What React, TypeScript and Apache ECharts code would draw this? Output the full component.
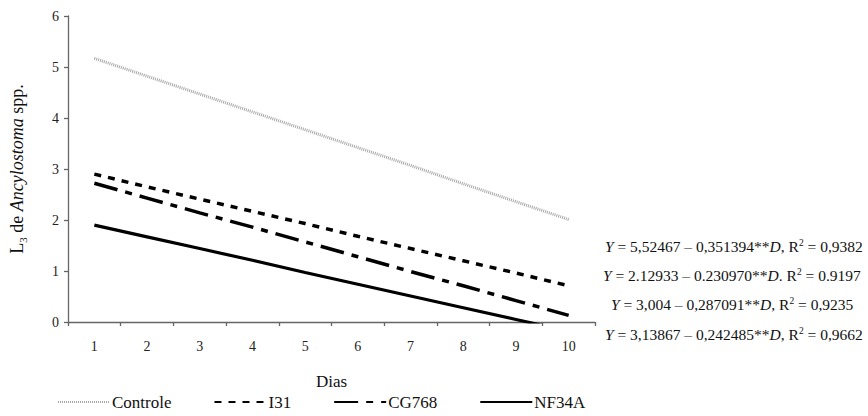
import React, { useEffect, useRef } from "react";
import * as echarts from "echarts";

const days = ["1", "2", "3", "4", "5", "6", "7", "8", "9", "10"];
const yTicks = [0, 1, 2, 3, 4, 5, 6];
const controle = [5.17, 4.82, 4.47, 4.12, 3.77, 3.42, 3.07, 2.71, 2.36, 2.01];
const i31 = [2.9, 2.65, 2.41, 2.17, 1.93, 1.68, 1.44, 1.2, 0.96, 0.71];
const cg768 = [2.72, 2.43, 2.14, 1.86, 1.57, 1.28, 0.99, 0.71, 0.42, 0.13];
const nf34a = [1.9, 1.67, 1.44, 1.21, 0.97, 0.74, 0.51, 0.28, 0.05, -0.18];
const seriesNames = ["Controle", "I31", "CG768", "NF34A"];
const equations = [
  "{i|Y} = 5,52467 – 0,351394**{i|D}, R{s|2} = 0,9382",
  "{i|Y} = 2.12933 – 0.230970**{i|D}. R{s|2} = 0.9197",
  "{i|Y} = 3,004 – 0,287091**{i|D}, R{s|2} = 0,9235",
  "{i|Y} = 3,13867 – 0,242485**{i|D}, R{s|2} = 0,9662",
];

const FONT = "Liberation Serif, serif";

export default function App() {
  const ref = useRef<HTMLDivElement>(null);
  useEffect(() => {
    if (!ref.current) return;
    const chart = echarts.init(ref.current, undefined, { renderer: "svg" });
    const eqLeft = [605, 603, 611, 605];
    const eqY = [247, 276, 305, 335];
    const styles = [
      { color: "#a8a8a8", width: 3, type: [1, 1] as any },
      { color: "#000", width: 3.5, type: [7, 7] as any },
      { color: "#000", width: 3.5, type: [24, 8, 7, 8] as any },
      { color: "#000", width: 3.2, type: "solid" as any },
    ];
    const datas = [controle, i31, cg768, nf34a];
    chart.setOption({
      animation: false,
      textStyle: { fontFamily: FONT },
      grid: { left: 61, right: 273, top: 16, bottom: 94, containLabel: false },
      xAxis: {
        type: "category",
        data: days,
        boundaryGap: true,
        name: "Dias",
        nameLocation: "middle",
        nameGap: 51,
        nameTextStyle: { fontFamily: FONT, fontSize: 17, color: "#111" },
        axisLine: { lineStyle: { color: "#666", width: 1.3 } },
        axisTick: { show: true, length: 4, alignWithLabel: false, lineStyle: { color: "#666", width: 1.3 } },
        axisLabel: { fontFamily: FONT, fontSize: 14, color: "#222", margin: 17 },
        splitLine: { show: false },
      },
      yAxis: {
        type: "value",
        min: yTicks[0],
        max: yTicks[yTicks.length - 1],
        interval: 1,
        name: "{n|L}{sub|3}{n| de }{it|Ancylostoma}{n| spp.}",
        nameLocation: "middle",
        nameGap: 40,
        nameRotate: 90,
        nameTextStyle: {
          fontFamily: FONT,
          fontSize: 18,
          color: "#111",
          rich: {
            n: { fontFamily: FONT, fontSize: 18, color: "#111" },
            it: { fontFamily: FONT, fontSize: 18, fontStyle: "italic", color: "#111" },
            sub: { fontFamily: FONT, fontSize: 11, color: "#111", verticalAlign: "bottom", lineHeight: 22 },
          },
        },
        axisLine: { show: true, lineStyle: { color: "#666", width: 1.3 } },
        axisTick: { show: true, length: 4, lineStyle: { color: "#666", width: 1.3 } },
        axisLabel: { fontFamily: FONT, fontSize: 14, color: "#222", margin: 9 },
        splitLine: { show: false },
      },
      legend: {
        left: 57,
        top: 392,
        itemWidth: 52,
        itemHeight: 12,
        itemGap: 42,
        padding: 0,
        data: seriesNames,
        itemStyle: { color: "rgba(0,0,0,0)", borderWidth: 0, opacity: 0 },
        textStyle: { fontFamily: FONT, fontSize: 17, lineHeight: 20, color: "#111", padding: [0, 0, 0, -3] },
      },
      series: seriesNames.map((n, k) => ({
        name: n,
        type: "line",
        data: datas[k],
        showSymbol: false,
        symbol: "none",
        clip: true,
        lineStyle: styles[k],
        itemStyle: { color: styles[k].color },
        silent: true,
      })),
      graphic: equations.map((t, k) => ({
        type: "text",
        left: eqLeft[k],
        top: eqY[k] - 9,
        silent: true,
        style: {
          text: t,
          fontFamily: FONT,
          fontSize: 15.5,
          fill: "#111",
          rich: {
            i: { fontFamily: FONT, fontSize: 15.5, fontStyle: "italic", fill: "#111" },
            s: { fontFamily: FONT, fontSize: 9.5, fill: "#111", verticalAlign: "top" },
          },
        },
      })),
    });
    return () => chart.dispose();
  }, []);
  return (
    <div
      ref={ref}
      style={{ width: 868, height: 416, position: "absolute", left: 0, top: 0, background: "#fff" }}
    />
  );
}
